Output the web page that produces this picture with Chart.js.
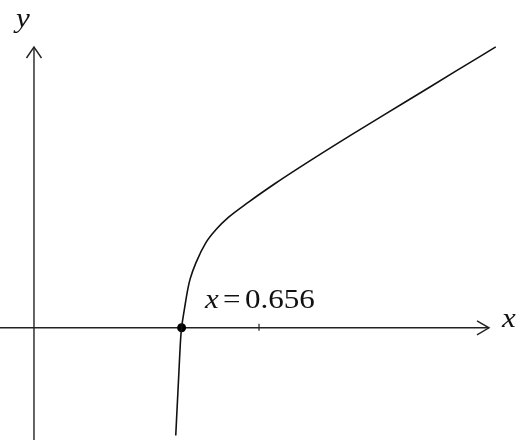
<!DOCTYPE html>
<html>
<head>
<meta charset="utf-8">
<script src="https://cdn.jsdelivr.net/npm/chart.js@4"></script>
<style>
  body { margin: 0; background: #fff; }
  #wrap { width: 516px; height: 440px; }
</style>
</head>
<body>
<div id="wrap"><canvas id="myChart" width="516" height="440"></canvas></div>
<script>
// curve points
const curveX = [0.629, 0.643, 0.652, 0.656, 0.669, 0.684, 0.694, 0.721, 0.764, 0.808, 0.865, 0.952, 1.070, 1.179, 1.410, 1.646, 1.878, 2.052];
const curveY = [-0.500, -0.218, -0.044, 0, 0.087, 0.175, 0.218, 0.293, 0.380, 0.437, 0.493, 0.559, 0.642, 0.714, 0.860, 1.004, 1.146, 1.252];

const rootX = [0.656];
const rootY = [0];
const tickValues = [1];
const rootLabel = "0.656";

const xRange = [-0.131, 2.122];
const yRange = [-0.480, 1.441];

const curvePts = curveX.map((x, i) => ({ x: x, y: curveY[i] }));
const rootPts = rootX.map((x, i) => ({ x: x, y: rootY[i] }));

const serif = '"Liberation Serif", "Times New Roman", serif';

// text in the picture is a bit wider than plain Times
function wideText(ctx, txt, x, y, font) {
  ctx.save();
  ctx.font = font;
  ctx.translate(x, y);
  ctx.scale(1.15, 1);
  ctx.fillText(txt, 0, 0);
  ctx.restore();
}

const axesPlugin = {
  id: "axes",
  beforeDatasetsDraw(chart) {
    const ctx = chart.ctx;
    const xs = chart.scales.x, ys = chart.scales.y;
    const ox = xs.getPixelForValue(0), oy = ys.getPixelForValue(0);
    ctx.save();
    ctx.strokeStyle = "#222";
    ctx.lineWidth = 1.4;
    // x axis
    const xEnd = 489;
    ctx.beginPath();
    ctx.moveTo(0, oy);
    ctx.lineTo(xEnd, oy);
    ctx.stroke();
    ctx.beginPath();
    ctx.moveTo(xEnd - 12, oy - 7);
    ctx.lineTo(xEnd, oy);
    ctx.lineTo(xEnd - 12, oy + 7);
    ctx.stroke();
    // y axis
    const yEnd = 47;
    ctx.beginPath();
    ctx.moveTo(ox, chart.height);
    ctx.lineTo(ox, yEnd);
    ctx.stroke();
    ctx.beginPath();
    ctx.moveTo(ox - 7.5, yEnd + 11);
    ctx.lineTo(ox, yEnd);
    ctx.lineTo(ox + 7.5, yEnd + 11);
    ctx.stroke();
    // ticks
    ctx.lineWidth = 1.2;
    tickValues.forEach(v => {
      const px = xs.getPixelForValue(v);
      ctx.beginPath();
      ctx.moveTo(px, oy - 4);
      ctx.lineTo(px, oy + 3);
      ctx.stroke();
    });
    ctx.restore();
  },
  afterDraw(chart) {
    const ctx = chart.ctx;
    const ys = chart.scales.y;
    const oy = ys.getPixelForValue(0);
    ctx.save();
    ctx.fillStyle = "#111";
    ctx.textBaseline = "alphabetic";
    const it = "italic 27px " + serif;
    const rm = "27px " + serif;
    wideText(ctx, "y", 16, 27, it);
    wideText(ctx, "x", 502, oy - 1, it);
    // root label
    wideText(ctx, "x", 205, 308, it);
    wideText(ctx, "=", 223, 308, rm);
    wideText(ctx, rootLabel, 245, 308, rm);
    ctx.restore();
  }
};

function draw() {
  new Chart("myChart", {
    type: "scatter",
    data: {
      datasets: [
        {
          data: curvePts,
          showLine: true,
          borderColor: "#111",
          borderWidth: 1.6,
          pointRadius: 0,
          cubicInterpolationMode: "monotone",
        },
        {
          data: rootPts,
          pointRadius: 4.5,
          pointBackgroundColor: "#000",
          pointBorderColor: "#000",
          borderWidth: 0,
        },
      ],
    },
    options: {
      responsive: false,
      animation: false,
      layout: { padding: 0 },
      plugins: { legend: { display: false }, tooltip: { enabled: false } },
      scales: {
        x: { type: "linear", display: false, min: xRange[0], max: xRange[1] },
        y: { type: "linear", display: false, min: yRange[0], max: yRange[1] },
      },
    },
    plugins: [axesPlugin],
  });
}

Promise.all([
  document.fonts.load('27px "Liberation Serif"'),
  document.fonts.load('italic 27px "Liberation Serif"'),
]).then(draw, draw);
</script>
</body>
</html>
